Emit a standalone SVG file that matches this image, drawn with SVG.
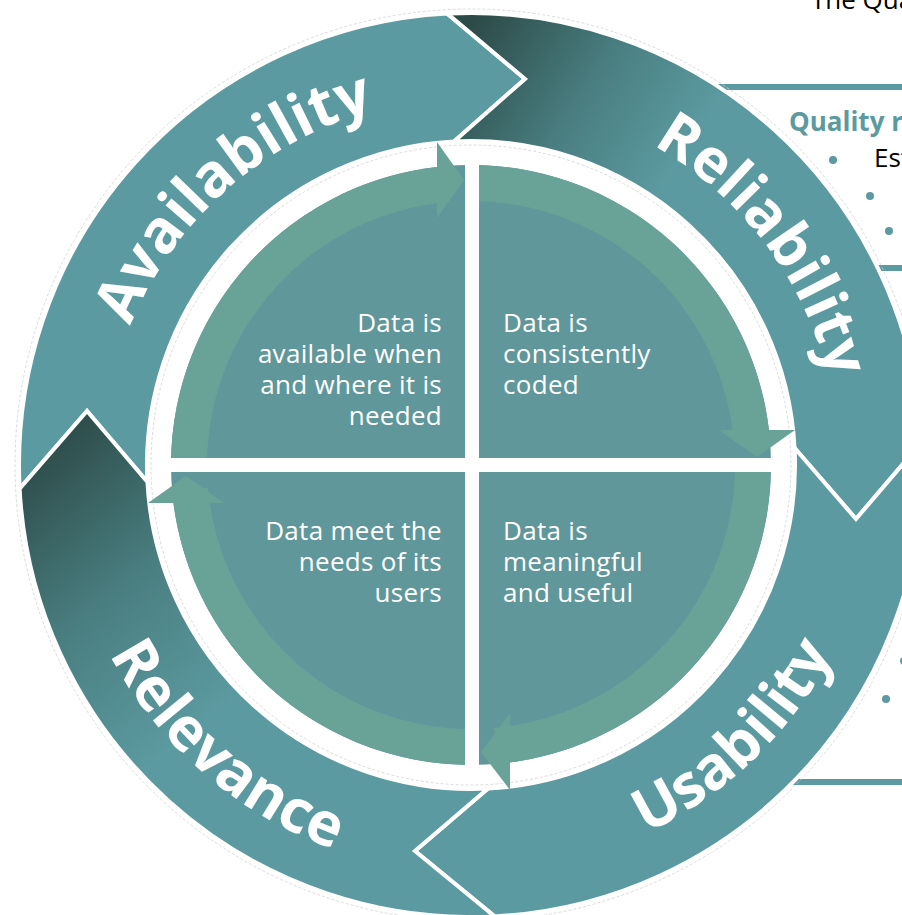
<svg xmlns="http://www.w3.org/2000/svg" xmlns:xlink="http://www.w3.org/1999/xlink" width="902" height="915" viewBox="0 0 902 915">
<style>
.seg{stroke:#fff;stroke-width:4;stroke-linejoin:miter}
.teal{fill:#5b9aa0}
.lbl{font-family:"Open Sans","Noto Sans","Liberation Sans",sans-serif;font-weight:700;font-size:60px;fill:#fff}
.qt{font-family:"Open Sans","Noto Sans","Liberation Sans",sans-serif;font-size:26px;fill:#fff;letter-spacing:0.3px}
.pt{font-family:"Open Sans","Noto Sans","Liberation Sans",sans-serif;font-size:26px;fill:#000}
.band{fill:#69a398}
.head{fill:#69a398}
.disc{fill:#60979b}
.rule{stroke:#5b9aa0;stroke-width:6;fill:none}
.dash{fill:none;stroke:#d2d2d2;stroke-width:0.8;stroke-dasharray:3 2}
</style>
<defs>
<linearGradient id="gRel" gradientUnits="userSpaceOnUse" x1="470" y1="25" x2="680" y2="160">
<stop offset="0" stop-color="#2c4a48"/>
<stop offset="0.55" stop-color="#4a7f81"/>
<stop offset="1" stop-color="#5b9aa0"/>
</linearGradient>
<linearGradient id="gRlv" gradientUnits="userSpaceOnUse" x1="35" y1="465" x2="230" y2="700">
<stop offset="0" stop-color="#2f4f4d"/>
<stop offset="0.5" stop-color="#4a7f81"/>
<stop offset="1" stop-color="#5b9aa0"/>
</linearGradient>
<path id="bandTL" d="M171,465 A300,300 0 0 1 444.85,166.14 L447.99,202 A264,264 0 0 0 207,465 Z"/>
<path id="pAvail" d="M111.0,388.5 A368,368 0 0 1 438.9,98.4"/>
<path id="pReli" d="M584.7,115.0 A368,368 0 0 1 838.8,452.2"/>
<path id="pUsab" d="M534.8,868.0 A408,408 0 0 0 871.5,542.8"/>
<path id="pRelv" d="M75.1,563.7 A408,408 0 0 0 428.4,870.8"/>
</defs>

<g id="side-panel">
<text class="pt" x="811" y="9">The Qua</text>
<line class="rule" x1="700" y1="87" x2="902" y2="87"/>
<text x="789" y="131" style="font-family:'Open Sans','Noto Sans','Liberation Sans',sans-serif;font-weight:700;font-size:26px;fill:#5b9aa0">Quality r</text>
<circle class="teal" cx="833" cy="160" r="4"/>
<text class="pt" x="874" y="167">Est</text>
<circle class="teal" cx="870" cy="196" r="4"/>
<circle class="teal" cx="889" cy="231" r="4"/>
<line class="rule" x1="860" y1="268" x2="902" y2="268"/>
<circle class="teal" cx="904" cy="661" r="4"/>
<circle class="teal" cx="886" cy="699" r="4"/>
<line class="rule" x1="780" y1="782" x2="902" y2="782"/>
</g>

<circle class="dash" cx="471" cy="465" r="456"/>

<g id="availability">
<path class="seg teal" d="M19.62,488.66 A452,452 0 0 1 447.34,13.62 L525,79 L454.04,141.44 A324,324 0 0 0 147.44,481.96 L87,411 Z"/>
<text class="lbl"><textPath href="#pAvail" startOffset="50%" text-anchor="middle">Availability</textPath></text>
</g>
<g id="reliability">
<path class="seg" fill="url(#gRel)" d="M447.34,13.62 A452,452 0 0 1 922.38,441.34 L856,519 L794.56,448.04 A324,324 0 0 0 454.04,141.44 L525,79 Z"/>
<text class="lbl"><textPath href="#pReli" startOffset="50%" text-anchor="middle">Reliability</textPath></text>
</g>
<g id="usability">
<path class="seg teal" d="M922.38,441.34 A452,452 0 0 1 494.66,916.38 L415,851 L487.96,788.56 A324,324 0 0 0 794.56,448.04 L856,519 Z"/>
<text class="lbl"><textPath href="#pUsab" startOffset="50%" text-anchor="middle">Usability</textPath></text>
</g>
<g id="relevance">
<path class="seg" fill="url(#gRlv)" d="M494.66,916.38 A452,452 0 0 1 19.62,488.66 L87,411 L147.44,481.96 A324,324 0 0 0 487.96,788.56 L415,851 Z"/>
<text class="lbl"><textPath href="#pRelv" startOffset="50%" text-anchor="middle">Relevance</textPath></text>
</g>

<g id="inner-disc">
<circle class="disc" cx="471" cy="465" r="300"/>
<use href="#bandTL" class="band"/>
<use href="#bandTL" class="band" transform="rotate(90 471 465)"/>
<use href="#bandTL" class="band" transform="rotate(180 471 465)"/>
<use href="#bandTL" class="band" transform="rotate(270 471 465)"/>
<rect x="465" y="152" width="14" height="628" fill="#fff"/>
<rect x="154" y="458" width="634" height="14" fill="#fff"/>
<circle class="dash" cx="471" cy="465" r="320"/>
</g>

<g id="connectors">
<polygon class="head" points="437,142 437,218 464,180"/>
<polygon class="head" points="795,430 719,430 757,457"/>
<polygon class="head" points="510,790 510,713 481,752"/>
<polygon class="head" points="148,503 224,503 186,476"/>
</g>

<g id="q-availability">
<text class="qt" text-anchor="end"><tspan x="442" y="332">Data is</tspan><tspan x="442" y="363">available when</tspan><tspan x="442" y="394">and where it is</tspan><tspan x="442" y="425">needed</tspan></text>
</g>
<g id="q-reliability">
<text class="qt"><tspan x="503" y="332">Data is</tspan><tspan x="503" y="363">consistently</tspan><tspan x="503" y="394">coded</tspan></text>
</g>
<g id="q-relevance">
<text class="qt" text-anchor="end"><tspan x="442" y="540">Data meet the</tspan><tspan x="442" y="571">needs of its</tspan><tspan x="442" y="602">users</tspan></text>
</g>
<g id="q-usability">
<text class="qt"><tspan x="503" y="540">Data is</tspan><tspan x="503" y="571">meaningful</tspan><tspan x="503" y="602">and useful</tspan></text>
</g>
</svg>
